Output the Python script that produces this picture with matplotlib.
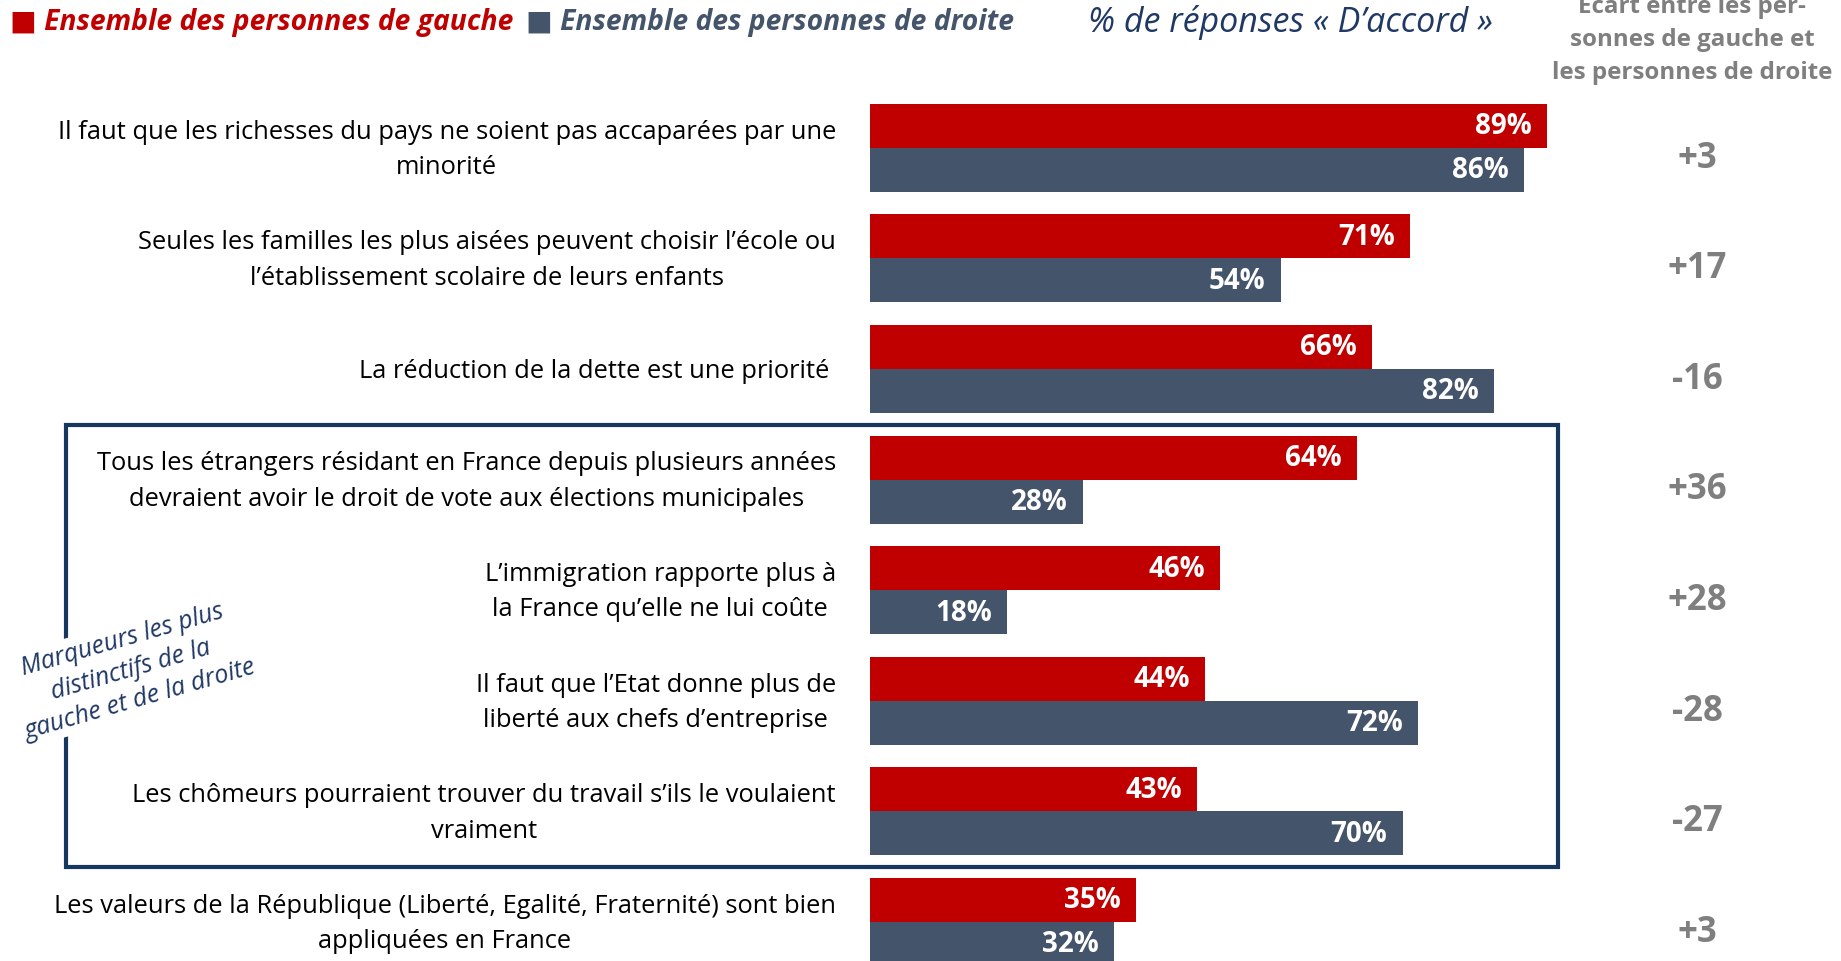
import matplotlib.pyplot as plt
from matplotlib.patches import Rectangle

plt.rcParams['font.family'] = ['Open Sans', 'DejaVu Sans']

categories = [
    "Il faut que les richesses du pays ne soient pas accaparées par une\nminorité",
    "Seules les familles les plus aisées peuvent choisir l\u2019école ou\nl\u2019établissement scolaire de leurs enfants",
    "La réduction de la dette est une priorité ",
    "Tous les étrangers résidant en France depuis plusieurs années\ndevraient avoir le droit de vote aux élections municipales",
    "L\u2019immigration rapporte plus à\nla France qu\u2019elle ne lui coûte",
    "Il faut que l\u2019Etat donne plus de\nliberté aux chefs d\u2019entreprise",
    "Les chômeurs pourraient trouver du travail s\u2019ils le voulaient\nvraiment",
    "Les valeurs de la République (Liberté, Egalité, Fraternité) sont bien\nappliquées en France",
]
gauche = [89, 71, 66, 64, 46, 44, 43, 35]
droite = [86, 54, 82, 28, 18, 72, 70, 32]
ecart = [g - d for g, d in zip(gauche, droite)]

RED = '#C00000'
SLATE = '#44546A'
GREY = '#7F7F7F'
NAVY = '#1F3864'

W, H = 1841, 962
fig = plt.figure(figsize=(W / 100, H / 100), dpi=100)
ax = fig.add_axes([0, 0, 1, 1])

# pixel geometry of the reference: bars start at x=870, 100% = 761 px,
# groups every 110.6 px, first red/grey boundary at y=148.7
x0, px_pct = 870, 7.61
y0, step = 148.7, 110.6
ax.set_xlim(-x0 / px_pct, (W - x0) / px_pct)
ax.set_ylim((H - y0) / step, -y0 / step)
ax.axis('off')

def px(x):
    return (x - x0) / px_pct

def py(y):
    return (y - y0) / step

h = 44 / step
pos = list(range(len(categories)))
ax.barh([p - h / 2 for p in pos], gauche, height=h, color=RED)
ax.barh([p + h / 2 for p in pos], droite, height=h, color=SLATE)

for p, cat, g, d, e in zip(pos, categories, gauche, droite, ecart):
    ax.text(px(836), p + 0.01, cat, ha='right', va='center', multialignment='center',
            fontsize=18.4, color='black', linespacing=1.55)
    ax.text(g - 2, p - h / 2, f"{g}%", ha='right', va='center', color='white',
            fontsize=20, fontweight='bold')
    ax.text(d - 2, p + h / 2, f"{d}%", ha='right', va='center', color='white',
            fontsize=20, fontweight='bold')
    ax.text(px(1697), p + 0.09, f"{e:+d}", ha='center', va='center', color=GREY,
            fontsize=25, fontweight='bold')

# header texts
ax.text(px(10), py(22), "\u25a0 Ensemble des personnes de gauche", ha='left', va='center',
        color=RED, fontsize=20.3, fontweight='bold', style='italic')
ax.text(px(526), py(22), "\u25a0 Ensemble des personnes de droite", ha='left', va='center',
        color=SLATE, fontsize=20.3, fontweight='bold', style='italic')
ax.text(px(1290), py(22), "% de réponses « D\u2019accord »", ha='center', va='center',
        color=NAVY, fontsize=24.5, style='italic')
ax.text(px(1692), py(40), "Ecart entre les per-\nsonnes de gauche et\nles personnes de droite",
        ha='center', va='center', color=GREY, fontsize=17.4, fontweight='bold', linespacing=1.5)

# box around the most distinctive markers
ax.add_patch(Rectangle((px(66), py(868)), px(1558) - px(66), py(426) - py(868),
                       fill=False, edgecolor='#17375E', linewidth=3))
ax.text(px(131), py(670), "Marqueurs les plus\ndistinctifs de la\ngauche et de la droite",
        ha='center', va='center', rotation=16, rotation_mode='anchor', color=NAVY,
        fontsize=18, style='italic', linespacing=1.3,
        bbox=dict(facecolor='white', edgecolor='none', pad=3))

fig.savefig('out.png', dpi=100)
